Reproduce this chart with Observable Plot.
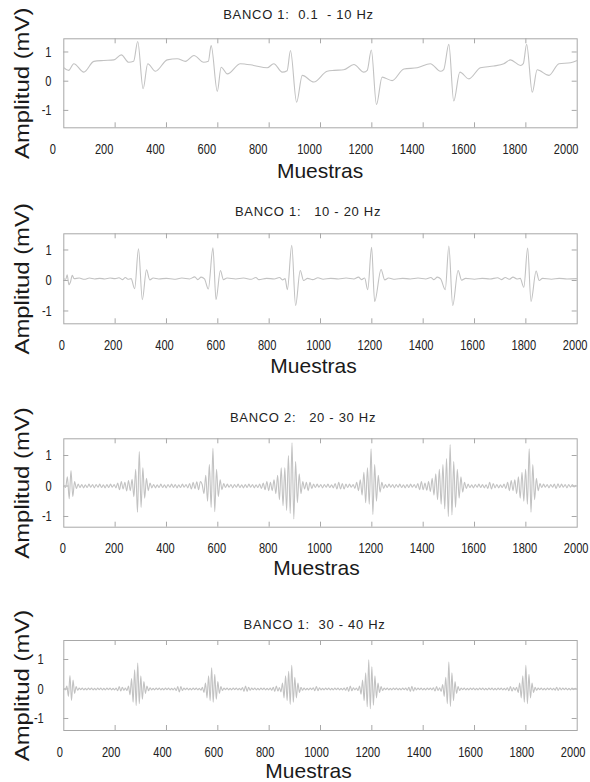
<!DOCTYPE html>
<html><head><meta charset="utf-8">
<script src="https://cdn.jsdelivr.net/npm/d3@7"></script>
<script src="https://cdn.jsdelivr.net/npm/@observablehq/plot@0.6"></script>
<style>
html,body{margin:0;padding:0;background:#fff;}
#chart{position:relative;width:590px;height:782px;overflow:hidden;background:#fff;}
#chart svg{position:absolute;left:0;}
svg text{white-space:pre;}
</style></head><body><div id="chart"></div><script>
// ---- data ----
const titulos = ["BANCO 1:  0.1  - 10 Hz", "BANCO 1:   10 - 20 Hz", "BANCO 2:   20 - 30 Hz", "BANCO 1:  30 - 40 Hz"];
const xTicks = [0, 200, 400, 600, 800, 1000, 1200, 1400, 1600, 1800, 2000];
const yTicks = [-1, 0, 1];
const xLabel = "Muestras";
const yLabel = "Amplitud (mV)";

// Banco 1: 0.1 - 10 Hz (sample index, mV)
const senal1X = [0,19,39,78,117,156,195,224,253,272,288,309,327,357,403,442,474,507,545,563,574,598,613,637,688,740,792,818,851,870,883,907,929,974,1026,1053,1090,1130,1169,1182,1198,1218,1240,1279,1325,1377,1428,1467,1480,1500,1519,1543,1578,1623,1675,1714,1740,1779,1790,1803,1825,1844,1890,1929,1974,2000];
const senal1Y = [0.46,0.37,0.60,0.31,0.68,0.71,0.73,0.90,0.65,0.68,1.36,-0.26,0.60,0.34,0.73,0.77,0.68,0.88,0.65,0.68,1.22,-0.35,0.48,0.25,0.60,0.54,0.46,0.60,0.31,0.36,1.05,-0.72,0.20,-0.03,0.34,0.37,0.39,0.57,0.31,0.37,1.07,-0.80,0.14,0.02,0.42,0.46,0.60,0.34,0.40,1.26,-0.68,0.31,0.08,0.46,0.52,0.60,0.73,0.54,0.60,1.26,-0.38,0.39,0.20,0.60,0.63,0.71];

// Banco 1: 10 - 20 Hz
const senal2X = [0,8,13,20,26,33,40,60,80,100,120,140,160,180,200,215,228,240,250,262,276,291,306,322,335,348,370,400,430,460,490,510,522,535,548,563,581,593,610,622,636,670,700,730,748,760,790,820,840,852,862,871,888,903,921,934,950,970,990,1010,1040,1070,1100,1130,1148,1160,1172,1184,1199,1211,1236,1250,1265,1290,1320,1350,1380,1410,1430,1442,1455,1468,1486,1500,1515,1536,1550,1565,1600,1630,1660,1690,1705,1720,1735,1750,1765,1778,1792,1807,1820,1840,1852,1865,1900,1930,1960,2000];
const senal2Y = [0.06,0.04,0.19,-0.14,-0.05,0.17,0.06,0.08,0.04,0.08,0.05,0.07,0.05,0.08,0.06,0.09,0.03,0.10,0.04,0.06,-0.27,1.04,-0.63,0.35,0.02,0.08,0.05,0.07,0.04,0.08,0.05,0.12,0.03,0.11,0.05,-0.28,1.07,-0.63,0.33,0.03,0.08,0.05,0.08,0.04,0.10,0.03,0.07,0.05,0.10,0.02,0.06,-0.30,1.15,-0.82,0.33,0.00,0.07,0.03,0.09,0.04,0.07,0.05,0.08,0.05,0.11,0.03,0.08,-0.30,1.09,-0.69,0.36,0.02,0.08,0.04,0.07,0.05,0.08,0.05,0.10,0.03,0.11,0.05,-0.30,1.13,-0.82,0.33,0.01,0.07,0.04,0.07,0.05,0.09,0.03,0.10,0.04,0.11,0.05,0.07,-0.22,1.06,-0.69,0.31,0.00,0.07,0.04,0.07,0.05,0.06];

// Banco 2: 20 - 30 Hz, one value every 7 samples
const paso3 = 7;
const senal3Y = [
0.02,-0.05,0.30,-0.42,0.51,-0.35,0.15,-0.08,0.06,-0.05,
0.05,-0.06,0.04,-0.05,0.06,-0.04,0.05,-0.06,0.05,-0.04,
0.06,-0.05,0.04,-0.06,0.05,-0.05,0.06,-0.04,0.05,-0.06,
0.10,-0.12,0.15,-0.10,0.12,-0.16,0.18,-0.15,0.22,-0.35,
0.55,-0.86,1.13,-0.70,0.60,-0.40,0.25,-0.15,0.10,-0.06,
0.05,-0.06,0.04,-0.05,0.06,-0.05,0.04,-0.06,0.05,-0.04,
0.06,-0.05,0.05,-0.06,0.04,-0.05,0.06,-0.04,0.05,-0.06,
0.08,-0.10,0.12,-0.09,0.14,-0.12,0.15,0.05,-0.25,0.35,
-0.50,0.70,-0.70,1.24,-0.84,0.55,-0.35,0.20,-0.12,0.08,
-0.05,0.06,-0.04,0.05,-0.06,0.05,-0.04,0.06,-0.05,0.04,
-0.06,0.05,-0.05,0.06,-0.04,0.05,-0.06,0.04,-0.05,0.06,
-0.08,0.10,-0.12,0.15,-0.15,0.12,-0.15,0.20,-0.25,0.35,
-0.45,0.60,-0.65,0.60,-0.80,1.00,-0.90,1.42,-1.08,0.80,
-0.55,0.40,-0.25,0.15,-0.10,0.12,-0.15,0.12,-0.08,0.06,
-0.05,0.06,-0.04,0.05,-0.06,0.05,-0.04,0.06,-0.05,0.04,
-0.06,0.08,-0.10,0.12,-0.10,0.08,-0.10,0.06,-0.05,0.06,
-0.04,0.05,-0.08,0.12,-0.15,0.20,-0.30,0.45,-0.55,0.60,
-0.60,1.22,-0.93,0.70,-0.50,0.35,-0.20,0.12,-0.08,0.05,
-0.05,0.06,-0.04,0.05,-0.06,0.05,-0.04,0.06,-0.05,0.04,
-0.06,0.05,-0.05,0.06,-0.04,0.05,-0.06,0.08,-0.12,0.15,
-0.12,0.10,-0.14,0.15,-0.18,0.25,-0.30,0.40,-0.45,0.55,
-0.60,0.70,-0.75,0.90,-1.00,1.36,-0.95,0.80,-0.70,0.55,
-0.40,0.30,-0.20,0.12,-0.08,0.06,-0.05,0.04,-0.06,0.05,
-0.04,0.06,-0.05,0.05,-0.06,0.04,-0.08,0.12,-0.10,0.08,
-0.06,0.05,-0.06,0.04,-0.05,0.06,-0.08,0.12,-0.15,0.18,
-0.15,0.20,-0.25,0.30,-0.40,0.45,-0.50,0.55,-0.60,1.22,
-0.86,0.70,-0.45,0.25,-0.15,0.08,-0.05,0.06,-0.04,0.05,
-0.06,0.05,-0.04,0.06,-0.08,0.07,-0.05,0.06,-0.04,0.05,
-0.06,0.05,-0.04,0.05,-0.03,0.02];

// Banco 1: 30 - 40 Hz, one value every 6 samples
const paso4 = 6;
const senal4Y = [
0.02,-0.03,0.10,-0.25,0.46,-0.39,0.30,-0.15,0.08,-0.04,
0.03,-0.02,0.03,-0.03,0.02,-0.03,0.03,-0.02,0.03,-0.03,
0.02,-0.03,0.03,-0.02,0.03,-0.03,0.02,-0.03,0.03,-0.02,
0.03,-0.03,0.02,-0.03,0.03,-0.06,0.08,-0.07,0.06,-0.04,
0.03,-0.05,0.10,-0.20,0.35,-0.45,0.65,-0.56,0.88,-0.50,
0.45,-0.35,0.25,-0.15,0.10,-0.06,0.04,-0.03,0.02,-0.03,
0.03,-0.02,0.03,-0.03,0.02,-0.03,0.03,-0.02,0.03,-0.03,
0.02,-0.03,0.03,-0.05,0.08,-0.10,0.08,-0.05,0.03,-0.02,
0.03,-0.03,0.02,-0.03,0.03,-0.02,0.03,-0.03,0.02,-0.04,
0.06,-0.12,0.20,-0.30,0.45,-0.40,0.72,-0.45,0.50,-0.35,
0.25,-0.15,0.08,-0.05,0.03,-0.02,0.03,-0.03,0.02,-0.03,
0.03,-0.02,0.03,-0.03,0.02,-0.03,0.05,-0.08,0.10,-0.08,
0.06,-0.04,0.03,-0.02,0.03,-0.03,0.02,-0.03,0.03,-0.02,
0.03,-0.03,0.02,-0.03,0.03,-0.04,0.06,-0.08,0.10,-0.07,
0.05,-0.10,0.20,-0.30,0.45,-0.40,0.60,-0.52,0.80,-0.45,
0.40,-0.30,0.20,-0.12,0.06,-0.04,0.03,-0.03,0.02,-0.03,
0.03,-0.02,0.04,-0.06,0.08,-0.06,0.04,-0.03,0.02,-0.03,
0.03,-0.02,0.03,-0.03,0.02,-0.03,0.03,-0.02,0.03,-0.03,
0.02,-0.03,0.03,-0.04,0.06,-0.08,0.10,-0.06,0.04,-0.03,
0.03,-0.05,0.10,-0.18,0.30,-0.40,0.55,-0.60,0.99,-0.67,
0.75,-0.55,0.45,-0.30,0.20,-0.12,0.08,-0.05,0.03,-0.02,
0.03,-0.03,0.02,-0.03,0.03,-0.02,0.03,-0.03,0.02,-0.03,
0.03,-0.02,0.03,-0.04,0.06,-0.08,0.09,-0.07,0.05,-0.03,
0.03,-0.02,0.03,-0.03,0.02,-0.03,0.03,-0.02,0.03,-0.03,
0.04,-0.07,0.08,-0.05,0.04,-0.08,0.15,-0.25,0.40,-0.50,
0.91,-0.59,0.55,-0.40,0.25,-0.15,0.08,-0.05,0.03,-0.02,
0.03,-0.03,0.02,-0.03,0.03,-0.02,0.03,-0.03,0.02,-0.03,
0.03,-0.02,0.03,-0.03,0.02,-0.03,0.03,-0.02,0.03,-0.03,
0.02,-0.03,0.03,-0.02,0.03,-0.03,0.02,-0.03,0.04,-0.06,
0.08,-0.07,0.05,-0.04,0.06,-0.12,0.20,-0.30,0.45,-0.45,
0.80,-0.50,0.50,-0.30,0.20,-0.12,0.06,-0.04,0.03,-0.02,
0.03,-0.03,0.02,-0.03,0.03,-0.02,0.03,-0.03,0.02,-0.04,
0.06,-0.05,0.04,-0.03,0.03,-0.02,0.03,-0.03,0.02,-0.03,
0.03,-0.02,0.02,-0.01];

// ---- tables built from the arrays ----
const datos = [
  senal1X.map((x, i) => ({x, y: senal1Y[i]})),
  senal2X.map((x, i) => ({x, y: senal2Y[i]})),
  senal3Y.map((y, i) => ({x: i * paso3, y})),
  senal4Y.map((y, i) => ({x: i * paso4, y}))
];

// ---- layout ----
const FONT = "'Liberation Sans', Arial, Helvetica, sans-serif";
const ML = 63.3, MR = 13.3, W = 590;
const layout = [
  {top: 0,   height: 190, mt: 38.3, mb: 62.7, yDomain: [-1.596, 1.452], yPad: 12.3, xShift: -11, titleDx: -22, titleDy: -24.3, labDx: -0.4, labDy: 43.7},
  {top: 190, height: 200, mt: 43.3, mb: 66.7, yDomain: [-1.420, 1.531], yPad: 12.0, xShift: -2,  titleDx: -12.5, titleDy: -21.6, labDx: -7, labDy: 42.7},
  {top: 390, height: 200, mt: 48.3, mb: 63.3, yDomain: [-1.351, 1.548], yPad: 12.0, xShift: -1,  titleDx: -17.5, titleDy: -21, labDx: -4, labDy: 41.3},
  {top: 590, height: 192, mt: 50,   mb: 52,   yDomain: [-1.407, 1.644], yPad: 20.0, xShift: -4,  titleDx: -6, titleDy: -16, labDx: -12, labDy: 41}
];

const cont = document.getElementById("chart");
const gris = "#a8a8a8";

layout.forEach((L, k) => {
  const fh = L.height - L.mt - L.mb;
  const fw = W - ML - MR;
  const svg = Plot.plot({
    width: W, height: L.height,
    marginLeft: ML, marginRight: MR, marginTop: L.mt, marginBottom: L.mb,
    style: {background: "transparent", fontFamily: FONT, fontSize: "15px", color: "#222", overflow: "visible"},
    x: {domain: [0, 2000], ticks: xTicks, tickSize: 0, tickPadding: 15.5, tickFormat: d => String(d), label: null},
    y: {domain: L.yDomain, ticks: yTicks, tickSize: 0, tickPadding: L.yPad, tickFormat: d => String(d), label: null},
    marks: [
      Plot.frame({stroke: gris, strokeWidth: 1}),
      Plot.tickX(xTicks.slice(1, -1), {x: d => d, insetBottom: fh - 5, stroke: gris}),
      Plot.tickX(xTicks.slice(1, -1), {x: d => d, insetTop: fh - 5, stroke: gris}),
      Plot.tickY(yTicks, {y: d => d, insetRight: fw - 5, stroke: gris}),
      Plot.tickY(yTicks, {y: d => d, insetLeft: fw - 5, stroke: gris}),
      Plot.line(datos[k], {x: "x", y: "y", stroke: "#c2c2c2", strokeWidth: 1.1, curve: "monotone-x"}),
      Plot.text([titulos[k]], {frameAnchor: "top", textAnchor: "middle", dx: L.titleDx, dy: L.titleDy, fontSize: 13, lineAnchor: "middle", fill: "#222"}),
      Plot.text([xLabel], {frameAnchor: "bottom", textAnchor: "middle", dx: L.labDx, dy: L.labDy, fontSize: 21, lineAnchor: "middle", fill: "#1a1a1a"}),
      Plot.text([yLabel], {frameAnchor: "left", textAnchor: "middle", rotate: -90, dx: -41.5, fontSize: 21, lineAnchor: "middle", fill: "#1a1a1a"})
    ]
  });
  svg.style.top = L.top + "px";
  // condensed tick labels, stretched y label and spaced titles, as in the reference typesetting
  svg.querySelectorAll("text").forEach(t => {
    const s = t.textContent;
    const holder = t.closest("[aria-label]");
    const lab = holder ? holder.getAttribute("aria-label") : "";
    const x = parseFloat(t.getAttribute("x")) || 0;
    const y = parseFloat(t.getAttribute("y")) || 0;
    const T = t.getAttribute("transform") || "";
    if (/^-?\d+$/.test(s) && lab.startsWith("x-axis")) {
      t.setAttribute("transform", `translate(${L.xShift},0) ${T} translate(${x},${y}) scale(0.74,1) translate(${-x},${-y})`);
    } else if (/^-?\d+$/.test(s) && lab.startsWith("y-axis")) {
      t.setAttribute("transform", `${T} translate(${x},${y}) scale(0.74,1) translate(${-x},${-y})`);
    } else if (s === yLabel) {
      t.setAttribute("transform", `${T} scale(1.14,1)`);
    } else if (titulos.includes(s)) {
      t.setAttribute("letter-spacing", "0.7");
    }
  });
  cont.appendChild(svg);
});
</script></body></html>
